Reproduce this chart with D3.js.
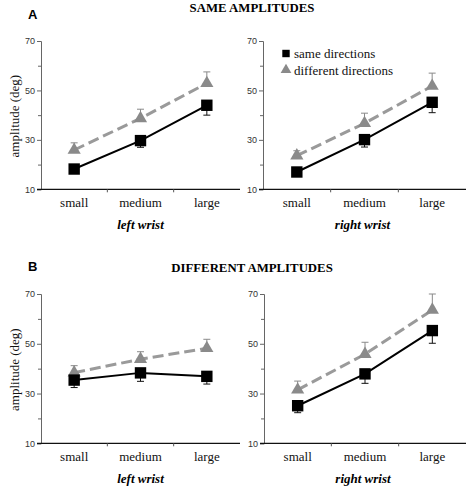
<!DOCTYPE html>
<html><head><meta charset="utf-8">
<script src="https://cdn.jsdelivr.net/npm/d3@7"></script>
<style>body{margin:0;background:#fff}svg{display:block}</style>
</head><body>
<svg id="chart" width="467" height="487"></svg>
<script>
const categories = ["small", "medium", "large"];
const yTicksMajor = [10, 30, 50, 70];
const yTicksMinor = [20, 40, 60];
const seriesNames = ["same directions", "different directions"];
const panelTitles = ["SAME AMPLITUDES", "DIFFERENT AMPLITUDES"];
const panelLetters = ["A", "B"];
const wristLabels = ["left wrist", "right wrist"];

const sameA_left = [18.2, 29.7, 44.0];
const sameA_left_err = [1.5, 2.7, 4.0];
const diffA_left = [25.9, 38.7, 52.9];
const diffA_left_err = [2.9, 3.7, 4.6];
const sameA_right = [17.0, 30.1, 45.2];
const sameA_right_err = [1.5, 3.0, 4.2];
const diffA_right = [23.6, 36.7, 51.8];
const diffA_right_err = [2.0, 4.1, 5.2];
const sameB_left = [35.4, 38.3, 36.9];
const sameB_left_err = [3.0, 3.4, 3.1];
const diffB_left = [38.4, 43.8, 48.2];
const diffB_left_err = [2.8, 3.0, 3.6];
const sameB_right = [25.1, 37.9, 55.3];
const sameB_right_err = [2.8, 3.8, 5.1];
const diffB_right = [31.5, 45.8, 63.6];
const diffB_right_err = [3.5, 4.8, 6.4];

const svg = d3.select("#chart");
const serif = "'Liberation Serif', 'Times New Roman', serif";
const sans = "'Liberation Sans', Arial, sans-serif";
const grayMark = "#8a8a8a";
const grayLine = "#9a9a9a";

const rows = [
  {top: 41, bottom: 189.3, letterY: 19, titleY: 12, catY: 207, wristY: 229,
   panels: [
     {x0: 41, x1: 240, same: sameA_left, sameErr: sameA_left_err, diff: diffA_left, diffErr: diffA_left_err},
     {x0: 263, x1: 466, same: sameA_right, sameErr: sameA_right_err, diff: diffA_right, diffErr: diffA_right_err}
   ]},
  {top: 294, bottom: 443.3, letterY: 271, titleY: 272, catY: 461, wristY: 483,
   panels: [
     {x0: 41, x1: 240, same: sameB_left, sameErr: sameB_left_err, diff: diffB_left, diffErr: diffB_left_err},
     {x0: 264, x1: 466, same: sameB_right, sameErr: sameB_right_err, diff: diffB_right, diffErr: diffB_right_err}
   ]}
];

rows.forEach((row, ri) => {
  svg.append("text").attr("x", 28).attr("y", row.letterY)
    .attr("font-family", sans).attr("font-weight", "bold").attr("font-size", 13)
    .text(panelLetters[ri]);
  svg.append("text").attr("x", 252).attr("y", row.titleY).attr("text-anchor", "middle")
    .attr("font-family", serif).attr("font-weight", "bold").attr("font-size", 12.8)
    .text(panelTitles[ri]);

  const y = d3.scaleLinear().domain([10, 70]).range([row.bottom, row.top]);

  row.panels.forEach((p, pi) => {
    const x = d3.scaleBand().domain(categories).range([p.x0, p.x1]).padding(0);
    const g = svg.append("g");

    const yAxis = g.append("g").attr("transform", `translate(${p.x0},0)`)
      .call(d3.axisLeft(y).tickValues(yTicksMajor).tickSize(4).tickPadding(2).tickFormat(d3.format("d")));
    yAxis.select(".domain").attr("stroke", "#666").attr("stroke-width", 1);
    yAxis.selectAll(".tick line").attr("stroke", "#666");
    yAxis.selectAll(".tick text").attr("font-family", sans).attr("font-size", 9).attr("fill", "#333");
    const yMinor = g.append("g").attr("transform", `translate(${p.x0},0)`)
      .call(d3.axisLeft(y).tickValues(yTicksMinor).tickSize(3).tickFormat(""));
    yMinor.select(".domain").remove();
    yMinor.selectAll(".tick line").attr("stroke", "#666");

    g.append("line").attr("x1", p.x0 - 4).attr("x2", p.x1).attr("y1", row.bottom).attr("y2", row.bottom)
      .attr("stroke", "#111").attr("stroke-width", 1.2);
    categories.slice(1).forEach(c => {
      g.append("line").attr("x1", x(c)).attr("x2", x(c)).attr("y1", row.bottom).attr("y2", row.bottom + 3)
        .attr("stroke", "#555");
    });
    categories.forEach(c => {
      g.append("text").attr("x", x(c) + x.bandwidth() / 2).attr("y", row.catY).attr("text-anchor", "middle")
        .attr("font-family", serif).attr("font-size", 13).attr("fill", "#111").text(c);
    });
    g.append("text").attr("x", (p.x0 + p.x1) / 2 - (pi === 1 ? 2 : 0)).attr("y", row.wristY).attr("text-anchor", "middle")
      .attr("font-family", serif).attr("font-weight", "bold").attr("font-style", "italic").attr("font-size", 13)
      .text(wristLabels[pi]);

    if (pi === 0) {
      const cy = (row.top + row.bottom) / 2 + 1;
      svg.append("text").attr("transform", `translate(19,${cy}) rotate(-90)`).attr("text-anchor", "middle")
        .attr("font-family", serif).attr("font-size", 13).attr("fill", "#111").text("amplitude (deg)");
    }

    const cx = c => x(c) + x.bandwidth() / 2;

    const capW = 3.5;
    categories.forEach((c, i) => {
      const yd = y(p.diff[i]), ye = y(p.diff[i] + p.diffErr[i]);
      g.append("line").attr("x1", cx(c)).attr("x2", cx(c)).attr("y1", yd).attr("y2", ye).attr("stroke", grayMark).attr("stroke-width", 1);
      g.append("line").attr("x1", cx(c) - capW).attr("x2", cx(c) + capW).attr("y1", ye).attr("y2", ye).attr("stroke", grayMark).attr("stroke-width", 1);
      const ys = y(p.same[i]), ys2 = y(p.same[i] - p.sameErr[i]);
      g.append("line").attr("x1", cx(c)).attr("x2", cx(c)).attr("y1", ys).attr("y2", ys2).attr("stroke", "#111").attr("stroke-width", 1);
      g.append("line").attr("x1", cx(c) - capW).attr("x2", cx(c) + capW).attr("y1", ys2).attr("y2", ys2).attr("stroke", "#111").attr("stroke-width", 1);
    });

    const line = d3.line().x((d, i) => cx(categories[i])).y(d => y(d));
    g.append("path").datum(p.diff).attr("d", line).attr("fill", "none")
      .attr("stroke", grayLine).attr("stroke-width", 3).attr("stroke-dasharray", "11,5");
    g.append("path").datum(p.same).attr("d", line).attr("fill", "none")
      .attr("stroke", "#000").attr("stroke-width", 2);

    const tri = d3.symbol().type(d3.symbolTriangle).size(75);
    const sq = d3.symbol().type(d3.symbolSquare).size(130);
    p.diff.forEach((v, i) => {
      g.append("path").attr("d", tri()).attr("transform", `translate(${cx(categories[i])},${y(v)})`).attr("fill", grayMark);
    });
    p.same.forEach((v, i) => {
      g.append("path").attr("d", sq()).attr("transform", `translate(${cx(categories[i])},${y(v)})`).attr("fill", "#000");
    });

    if (ri === 0 && pi === 1) {
      const lg = svg.append("g");
      lg.append("path").attr("d", d3.symbol().type(d3.symbolSquare).size(55)())
        .attr("transform", "translate(286,53.5)").attr("fill", "#000");
      lg.append("path").attr("d", d3.symbol().type(d3.symbolTriangle).size(50)())
        .attr("transform", "translate(286,70)").attr("fill", grayMark);
      seriesNames.forEach((s, i) => {
        lg.append("text").attr("x", 294).attr("y", 58 + i * 16.5)
          .attr("font-family", serif).attr("font-size", 13).attr("fill", "#111").text(s);
      });
    }
  });
});
</script>
</body></html>
